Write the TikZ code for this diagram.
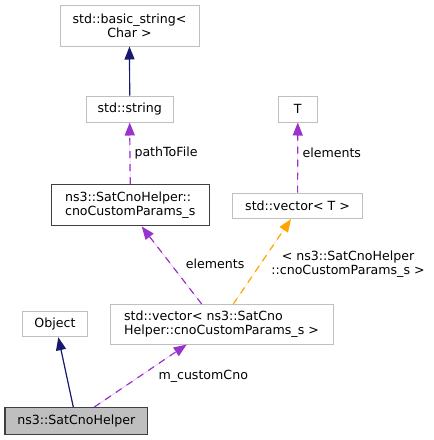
\documentclass[tikz,border=0pt]{standalone}
\usepackage{fontspec}
\setmainfont{DejaVu Sans}
\usetikzlibrary{arrows.meta}
\definecolor{boxgray}{HTML}{BFBFBF}
\definecolor{navyc}{HTML}{191970}
\definecolor{purplec}{HTML}{9A32CD}
\definecolor{orangec}{HTML}{FFA500}
\definecolor{darkb}{HTML}{404040}
\begin{document}
\begin{tikzpicture}[x=1pt,y=-1pt,
  every node/.style={font=\fontsize{12.6}{14}\selectfont},
  gbox/.style={draw=boxgray,line width=1pt,fill=white,inner sep=0pt,align=center},
  lbox/.style={draw=boxgray,line width=1pt,fill=white,inner sep=0pt,align=left},
  bbox/.style={draw=darkb,line width=1.3pt,fill=white,inner sep=0pt,align=left},
  hbox/.style={draw=darkb,line width=1.3pt,fill=boxgray,inner sep=0pt,align=center},
  tip/.style={-{Triangle[length=13pt,width=10pt]}},
  inh/.style={tip,draw=navyc,fill=navyc,line width=1.2pt},
  use/.style={tip,draw=purplec,fill=purplec,line width=1.2pt,dash pattern=on 7pt off 6pt},
  tpl/.style={tip,draw=orangec,fill=orangec,line width=1.2pt,dash pattern=on 7pt off 6pt},
  lbl/.style={inner sep=0pt,anchor=west,align=center}]
\useasboundingbox (0,0) rectangle (434,440);
\fill[white] (0,0) rectangle (434,440);
% nodes
\node[gbox,minimum width=139pt,minimum height=41pt] (bs) at (129.5,25.5) {std::basic\_string<\\Char >};
\node[gbox,minimum width=87pt,minimum height=26pt] (str) at (129.7,109) {std::string};
\node[gbox,minimum width=39pt,minimum height=26pt] (T) at (297.8,109) {T};
\node[bbox,minimum width=158pt,minimum height=41pt] (cp) at (130.2,205.3) {ns3::SatCnoHelper::\\cnoCustomParams\_s};
\node[gbox,minimum width=130pt,minimum height=25.5pt] (vT) at (297.6,205.8) {std::vector< T >};
\node[lbox,minimum width=223pt,minimum height=39.5pt] (vn) at (221.5,324.3) {std::vector< ns3::SatCno\\Helper::cnoCustomParams\_s >};
\node[gbox,minimum width=64.6pt,minimum height=25pt] (obj) at (55,324.2) {Object};
\node[hbox,minimum width=142.7pt,minimum height=26.6pt] (sch) at (76.3,421) {ns3::SatCnoHelper};
% edges
\draw[inh] (str.north) -- (bs.south);
\draw[use] (cp.north) -- (str.south);
\draw[use] (vT.north) -- (T.south);
\draw[use] ([xshift=-19.8pt]vn.north) -- ([xshift=11.5pt]cp.south);
\draw[tpl] ([xshift=11.8pt]vn.north) -- ([xshift=-6.6pt]vT.south);
\draw[inh] ([xshift=-3pt]sch.north) -- ([xshift=3.3pt]obj.south);
\draw[use] ([xshift=18pt]sch.north) -- ([xshift=-34.8pt]vn.south);
% labels
\node[lbl] (l1) at (134.3,152.7) {pathToFile};
\node[lbl] (l2) at (302.3,152.7) {elements};
\node[lbl] (l3) at (185.7,264) {elements};
\node[inner sep=0pt,align=center] (l4) at (348,264) {< ns3::SatCnoHelper\\::cnoCustomParams\_s >};
\node[lbl] (l5) at (158.3,376) {m\_customCno};
\end{tikzpicture}
\end{document}
